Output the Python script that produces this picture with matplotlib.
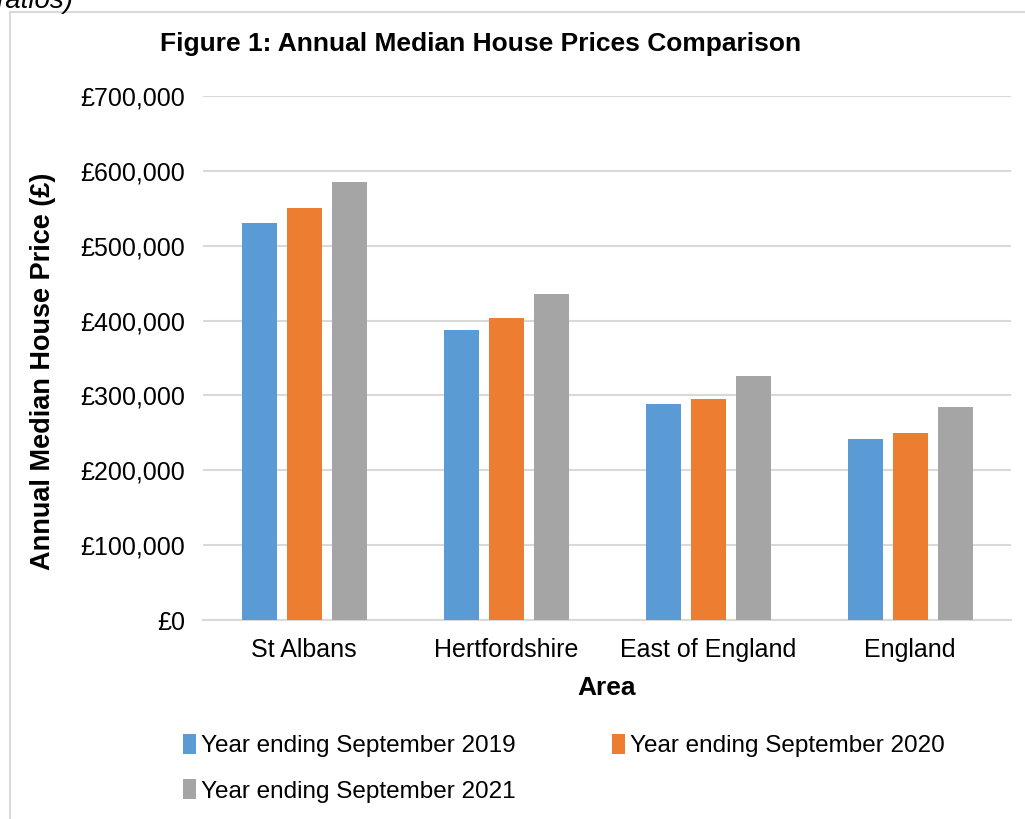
import matplotlib.pyplot as plt
import matplotlib.patches as mpatches
import numpy as np
from matplotlib.ticker import FuncFormatter

areas = ["St Albans", "Hertfordshire", "East of England", "England"]
series_names = [
    "Year ending September 2019",
    "Year ending September 2020",
    "Year ending September 2021",
]
prices_2019 = [530000, 387000, 288000, 242000]
prices_2020 = [550000, 403000, 295000, 250000]
prices_2021 = [585000, 435000, 326000, 285000]
colors = ["#5B9BD5", "#ED7D31", "#A5A5A5"]

plt.rcParams["font.family"] = ["Liberation Sans", "DejaVu Sans"]

fig = plt.figure(figsize=(10.25, 8.19), dpi=100)
ax = fig.add_axes([203 / 1025, 1 - 620 / 819, 808 / 1025, 524 / 819])

# chart border and the cut-off caption above it
fig.patches.append(mpatches.Rectangle((10 / 1025, -0.01), 1.02, 1 - 12 / 819 + 0.01,
                                      transform=fig.transFigure, fill=False,
                                      edgecolor="#D9D9D9", linewidth=1.5))
fig.text(-3 / 1025, 1 - 8 / 819, "ratios)", style="italic", fontsize=20,
         va="baseline", ha="left")

x = np.arange(len(areas))
width = 35 / 202
step = 45 / 202
for i, (vals, name) in enumerate(zip([prices_2019, prices_2020, prices_2021], series_names)):
    ax.bar(x + (i - 1) * step, vals, width, color=colors[i], label=name, zorder=3)

ax.set_xlim(-0.5, len(areas) - 0.5)
ax.set_ylim(0, 700000)
ax.set_yticks(np.arange(0, 700001, 100000))
ax.yaxis.set_major_formatter(FuncFormatter(lambda v, p: f"£{v:,.0f}"))
ax.set_xticks(x)
ax.set_xticklabels(areas)
ax.tick_params(axis="both", length=0, labelsize=18)
ax.tick_params(axis="x", pad=13)
ax.tick_params(axis="y", pad=13)
ax.grid(axis="y", color="#D9D9D9", linewidth=1.5, zorder=0)
for s in ["top", "right", "left"]:
    ax.spines[s].set_visible(False)
ax.spines["bottom"].set_color("#D9D9D9")
ax.spines["bottom"].set_linewidth(1.5)

ax.set_xlabel("Area", fontsize=19, fontweight="bold", labelpad=10)
ax.set_ylabel("Annual Median House Price (£)", fontsize=19.5, fontweight="bold")
ax.yaxis.set_label_coords(-0.182, 0.475)

fig.text(481 / 1025, 1 - 44 / 819, "Figure 1: Annual Median House Prices Comparison",
         fontsize=19, fontweight="bold", ha="center", va="center")

handles, labels = ax.get_legend_handles_labels()
order = [0, 2, 1]  # legend fills by column, so this gives 2019, 2020 / 2021
fig.legend([handles[k] for k in order], [labels[k] for k in order],
           loc="upper left", bbox_to_anchor=(161 / 1025, 1 - 712 / 819),
           ncol=2, frameon=False, handlelength=0.55, handleheight=0.9, handletextpad=0.2,
           columnspacing=3.95, labelspacing=0.9, prop={"size": 17.5})

fig.savefig("out.png", dpi=100)
